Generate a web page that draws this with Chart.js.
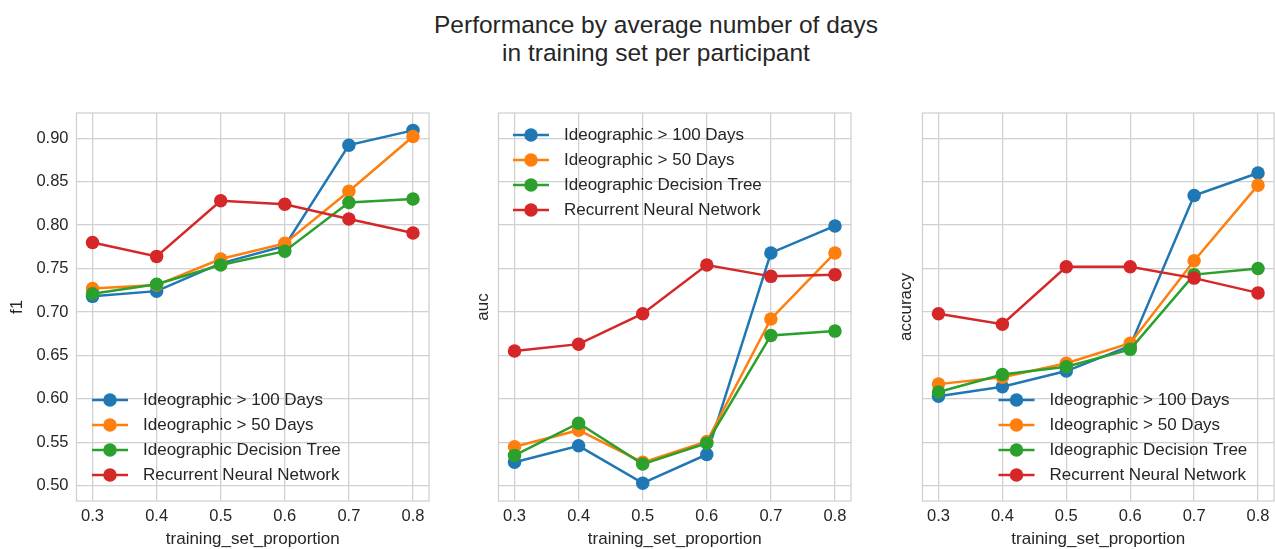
<!DOCTYPE html>
<html>
<head>
<meta charset="utf-8">
<title>Performance by training set proportion</title>
<script src="https://cdn.jsdelivr.net/npm/chart.js@4.4.1/dist/chart.umd.min.js"></script>
<style>
  body { margin: 0; background: #fff; width: 1275px; height: 549px; overflow: hidden; position: relative;
         font-family: "Liberation Sans", Arial, sans-serif; }
  #title { position: absolute; left: 356px; top: 11px; width: 600px; text-align: center;
           font-size: 24.5px; line-height: 28px; color: #262626; }
  .panel { position: absolute; top: 100px; height: 449px; }
</style>
</head>
<body>
<div id="title">Performance by average number of days<br>in training set per participant</div>
<div class="panel" id="panel-f1"><canvas id="f1"></canvas></div>
<div class="panel" id="panel-auc"><canvas id="auc"></canvas></div>
<div class="panel" id="panel-accuracy"><canvas id="accuracy"></canvas></div>

<script>
// x values and tick marks
const proportions = [0.3, 0.4, 0.5, 0.6, 0.7, 0.8];
const yTicks = [0.50, 0.55, 0.60, 0.65, 0.70, 0.75, 0.80, 0.85, 0.90];

const modelNames = [
    'Ideographic > 100 Days',
    'Ideographic > 50 Days',
    'Ideographic Decision Tree',
    'Recurrent Neural Network'
];

// f1
const f1Ideo100 = [0.718, 0.724, 0.756, 0.776, 0.892, 0.909];
const f1Ideo50  = [0.727, 0.731, 0.761, 0.779, 0.839, 0.902];
const f1Tree    = [0.721, 0.732, 0.754, 0.770, 0.826, 0.830];
const f1Rnn     = [0.780, 0.764, 0.828, 0.824, 0.807, 0.791];

// auc
const aucIdeo100 = [0.527, 0.546, 0.503, 0.536, 0.768, 0.799];
const aucIdeo50  = [0.545, 0.564, 0.527, 0.551, 0.692, 0.768];
const aucTree    = [0.535, 0.572, 0.525, 0.549, 0.673, 0.678];
const aucRnn     = [0.655, 0.663, 0.698, 0.754, 0.741, 0.743];

// accuracy
const accIdeo100 = [0.603, 0.614, 0.632, 0.661, 0.834, 0.860];
const accIdeo50  = [0.617, 0.625, 0.641, 0.664, 0.759, 0.846];
const accTree    = [0.608, 0.628, 0.637, 0.657, 0.743, 0.750];
const accRnn     = [0.698, 0.686, 0.752, 0.752, 0.739, 0.722];

const lineColors = ['#1f77b4', '#ff7f0e', '#2ca02c', '#d62728'];
const textColor = '#262626';
const gridColor = '#d0d0d0';
const fontFamily = '"Liberation Sans", Arial, sans-serif';

// matplotlib-style legend: short line with a marker in the middle, no frame
const lineLegend = {
    id: 'lineLegend',
    afterDatasetsDraw(chart, args, opts) {
        const ctx = chart.ctx;
        const area = chart.chartArea;
        ctx.save();
        ctx.font = '17px ' + fontFamily;
        ctx.textBaseline = 'middle';
        ctx.textAlign = 'left';
        chart.data.datasets.forEach(function(ds, i) {
            const x = area.left + opts.x;
            const y = area.top + opts.y + i * 25;
            ctx.strokeStyle = ds.borderColor;
            ctx.lineWidth = ds.borderWidth;
            ctx.beginPath();
            ctx.moveTo(x, y);
            ctx.lineTo(x + 36, y);
            ctx.stroke();
            ctx.fillStyle = ds.backgroundColor;
            ctx.beginPath();
            ctx.arc(x + 18, y, ds.pointRadius, 0, Math.PI * 2);
            ctx.fill();
            ctx.fillStyle = textColor;
            ctx.fillText(ds.label, x + 51, y);
        });
        ctx.restore();
    }
};

// light box round the plot area
const frame = {
    id: 'frame',
    beforeDatasetsDraw(chart) {
        const a = chart.chartArea;
        const ctx = chart.ctx;
        ctx.save();
        ctx.strokeStyle = gridColor;
        ctx.lineWidth = 1.25;
        ctx.strokeRect(a.left, a.top, a.right - a.left, a.bottom - a.top);
        ctx.restore();
    }
};

function makeDatasets(seriesList) {
    return seriesList.map(function(values, i) {
        return {
            label: modelNames[i],
            data: proportions.map(function(x, j) { return { x: x, y: values[j] }; }),
            borderColor: lineColors[i],
            backgroundColor: lineColors[i],
            borderWidth: 2.5,
            pointRadius: 6.75,
            pointBorderWidth: 0,
            pointHoverRadius: 6.75,
            tension: 0,
            order: seriesList.length - i
        };
    });
}

// left: where the div starts, areaLeft/areaRight: plot box edges on the page
function create_panel(elemId, yTitle, showYTicks, left, areaLeft, areaRight, legendPos, seriesList) {
    const panel = document.getElementById('panel-' + elemId);
    panel.style.left = left + 'px';
    panel.style.width = (areaRight - left + 1) + 'px';

    new Chart(document.getElementById(elemId), {
        type: 'line',
        data: { datasets: makeDatasets(seriesList) },
        plugins: [frame, lineLegend],
        options: {
            responsive: true,
            maintainAspectRatio: false,
            animation: false,
            events: [],
            layout: { autoPadding: false, padding: { top: 13, right: 1, bottom: 0, left: 0 } },
            plugins: {
                legend: { display: false },
                tooltip: { enabled: false },
                lineLegend: legendPos
            },
            scales: {
                x: {
                    type: 'linear',
                    min: 0.275,
                    max: 0.825,
                    afterBuildTicks: function(scale) {
                        scale.ticks = proportions.map(function(v) { return { value: v }; });
                    },
                    afterFit: function(scale) {
                        scale.height = 48;
                        scale.paddingLeft = 0;
                        scale.paddingRight = 0;
                    },
                    ticks: {
                        padding: 6,
                        color: textColor,
                        font: { family: fontFamily, size: 16.5 },
                        callback: function(v) { return v.toFixed(1); }
                    },
                    grid: { color: gridColor, lineWidth: 1.25, drawTicks: false },
                    border: { display: false },
                    title: {
                        display: true,
                        text: 'training_set_proportion',
                        color: textColor,
                        font: { family: fontFamily, size: 17, lineHeight: 1.1 },
                        padding: { top: 0, bottom: 0 }
                    }
                },
                y: {
                    type: 'linear',
                    min: 0.4825,
                    max: 0.929,
                    afterBuildTicks: function(scale) {
                        scale.ticks = yTicks.map(function(v) { return { value: v }; });
                    },
                    afterFit: function(scale) {
                        scale.width = areaLeft - left;
                        // labels never reach the ends, so no extra room above or below
                        scale.paddingTop = 0;
                        scale.paddingBottom = 0;
                    },
                    ticks: {
                        display: showYTicks,
                        padding: 8,
                        color: textColor,
                        font: { family: fontFamily, size: 16.5 },
                        callback: function(v) { return v.toFixed(2); }
                    },
                    grid: { color: gridColor, lineWidth: 1.25, drawTicks: false },
                    border: { display: false },
                    title: {
                        display: true,
                        text: yTitle,
                        color: textColor,
                        font: { family: fontFamily, size: 17 },
                        padding: 0
                    }
                }
            }
        }
    });
}

create_panel('f1', 'f1', true, 7, 76.5, 429, { x: 15.5, y: 287 },
    [f1Ideo100, f1Ideo50, f1Tree, f1Rnn]);
create_panel('auc', 'auc', false, 473, 498.5, 851, { x: 14.5, y: 22 },
    [aucIdeo100, aucIdeo50, aucTree, aucRnn]);
create_panel('accuracy', 'accuracy', false, 896, 922.5, 1274, { x: 76, y: 287 },
    [accIdeo100, accIdeo50, accTree, accRnn]);
</script>
</body>
</html>
